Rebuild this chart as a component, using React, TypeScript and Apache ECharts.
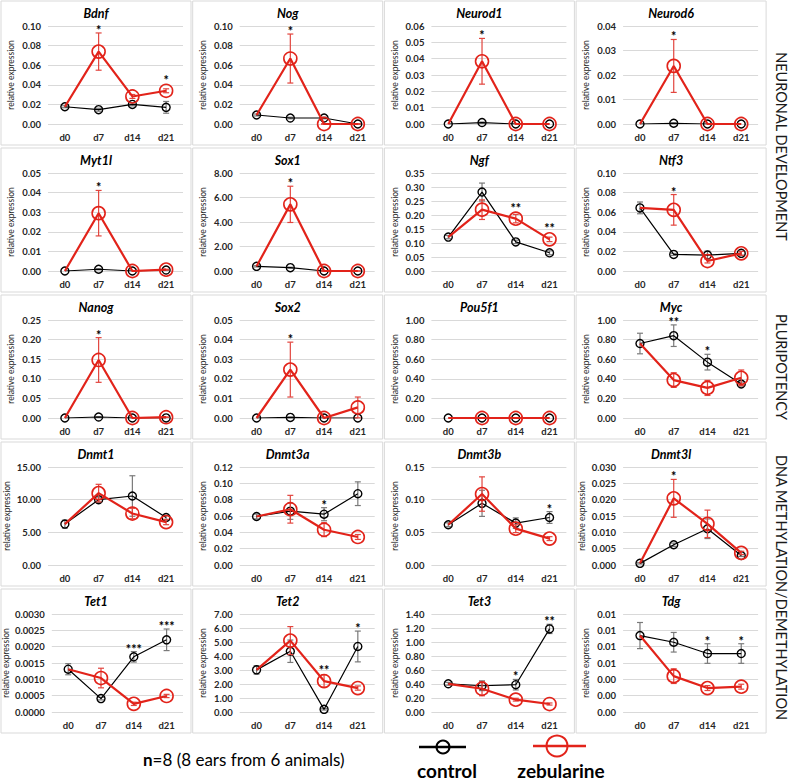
import React, { useEffect, useRef } from 'react';
import * as echarts from 'echarts';

const FONT = 'Lato, "Noto Sans", "DejaVu Sans", sans-serif';

const CATEGORIES = ['d0', 'd7', 'd14', 'd21'];

const GENES = [
  'Bdnf', 'Nog', 'Neurod1', 'Neurod6',
  'Myt1l', 'Sox1', 'Ngf', 'Ntf3',
  'Nanog', 'Sox2', 'Pou5f1', 'Myc',
  'Dnmt1', 'Dnmt3a', 'Dnmt3b', 'Dnmt3l',
  'Tet1', 'Tet2', 'Tet3', 'Tdg',
];

const Y_MAX = [
  0.10, 0.10, 0.06, 0.04,
  0.05, 8, 0.35, 0.10,
  0.25, 0.05, 1.0, 1.0,
  15, 0.12, 0.15, 0.030,
  0.0030, 7, 1.4, 0.012,
];
const Y_STEP = [
  0.02, 0.02, 0.01, 0.01,
  0.01, 2, 0.05, 0.02,
  0.05, 0.01, 0.2, 0.2,
  5, 0.02, 0.05, 0.005,
  0.0005, 1, 0.2, 0.002,
];
const Y_DECIMALS = [
  2, 2, 2, 2,
  2, 2, 2, 2,
  2, 2, 2, 2,
  2, 2, 2, 3,
  4, 2, 2, 2,
];

const CONTROL = [
  [0.0176, 0.0146, 0.0200, 0.0170],
  [0.0092, 0.0061, 0.0061, 0.0000],
  [0, 0.0009, 0, 0],
  [0, 0.0003, 0, 0],
  [0, 0.0009, 0, 0.0005],
  [0.38, 0.27, 0, 0],
  [0.121, 0.282, 0.104, 0.065],
  [0.0644, 0.0169, 0.0163, 0.018],
  [0, 0.0025, 0, 0.0003],
  [0, 0.0003, 0, 0],
  [0, 0, 0, 0],
  [0.76, 0.84, 0.57, 0.347],
  [6.26, 10.0, 10.56, 7.27],
  [0.0594, 0.0659, 0.0622, 0.0873],
  [0.0616, 0.0944, 0.0641, 0.0727],
  [0.0005, 0.0062, 0.0111, 0.0029],
  [0.00131, 0.00041, 0.00169, 0.00221],
  [3.01, 4.34, 0.19, 4.68],
  [0.403, 0.375, 0.39, 1.187],
  [0.00936, 0.00854, 0.00716, 0.00716],
];
const CONTROL_ERR = [
  [0.001, 0.0015, 0.0015, 0.006],
  [0.001, 0.0008, 0.0008, 0.0003],
  [0, 0.0003, 0, 0],
  [0, 0.0002, 0, 0],
  [0, 0.0003, 0, 0.0002],
  [0.05, 0.04, 0.01, 0],
  [0.006, 0.032, 0.006, 0.007],
  [0.006, 0.001, 0.004, 0.002],
  [0, 0.001, 0, 0],
  [0, 0.0002, 0, 0],
  [0, 0, 0, 0],
  [0.105, 0.11, 0.08, 0.02],
  [0.6, 0.4, 3.1, 0.3],
  [0.003, 0.01, 0.008, 0.0145],
  [0.003, 0.02, 0.008, 0.009],
  [0.0002, 0.0005, 0.003, 0.0003],
  [0.00017, 0.00004, 0.00016, 0.00033],
  [0.3, 0.8, 0.05, 1.1],
  [0.02, 0.07, 0.075, 0.066],
  [0.0016, 0.0012, 0.0012, 0.0012],
];
const ZEBULARINE = [
  [0.0176, 0.0739, 0.0281, 0.0339],
  [0.0092, 0.0668, 0, 0],
  [0, 0.0384, 0, 0],
  [0, 0.0237, 0, 0],
  [0, 0.0295, 0, 0.0007],
  [0.38, 5.44, 0, 0],
  [0.121, 0.219, 0.187, 0.113],
  [0.0644, 0.0624, 0.0102, 0.018],
  [0, 0.148, 0, 0.002],
  [0, 0.0247, 0, 0.0054],
  [0, 0, 0, 0],
  [0.76, 0.387, 0.307, 0.41],
  [6.26, 11.0, 7.88, 6.57],
  [0.0594, 0.0683, 0.0432, 0.0343],
  [0.0616, 0.1086, 0.0556, 0.0404],
  [0.0005, 0.0204, 0.0126, 0.0037],
  [0.00131, 0.00104, 0.00025, 0.00049],
  [3.01, 5.1, 2.21, 1.71],
  [0.403, 0.332, 0.176, 0.114],
  [0.00936, 0.00439, 0.00293, 0.0031],
];
const ZEBULARINE_ERR = [
  [0, 0.019, 0.002, 0.002],
  [0, 0.025, 0.0003, 0.0003],
  [0, 0.014, 0, 0],
  [0, 0.0108, 0, 0],
  [0, 0.0116, 0, 0.0002],
  [0, 1.48, 0.01, 0.01],
  [0, 0.035, 0.015, 0.008],
  [0, 0.0156, 0.002, 0.002],
  [0, 0.057, 0, 0.0005],
  [0, 0.014, 0, 0.0053],
  [0, 0, 0, 0],
  [0, 0.075, 0.077, 0.08],
  [0, 1.35, 0.8, 0.4],
  [0, 0.017, 0.0085, 0.003],
  [0, 0.0263, 0.006, 0.003],
  [0, 0.0058, 0.0042, 0.0005],
  [0, 0.0003, 0.00005, 0.00005],
  [0, 1.0, 0.44, 0.15],
  [0, 0.1, 0.02, 0.015],
  [0, 0.0009, 0.0003, 0.0003],
];
const STARS = [
  ['', '*', '', '*'],
  ['', '*', '', ''],
  ['', '*', '', ''],
  ['', '*', '', ''],
  ['', '*', '', ''],
  ['', '*', '', ''],
  ['', '', '**', '**'],
  ['', '*', '', ''],
  ['', '*', '', ''],
  ['', '*', '', ''],
  ['', '', '', ''],
  ['', '**', '*', ''],
  ['', '', '', ''],
  ['', '', '*', ''],
  ['', '', '', '*'],
  ['', '*', '', ''],
  ['', '', '***', '***'],
  ['', '', '**', '*'],
  ['', '', '*', '**'],
  ['', '', '*', '*'],
];

const GROUP_LABELS = ['NEURONAL DEVELOPMENT', 'PLURIPOTENCY', 'DNA METHYLATION/DEMETHYLATION'];
const GROUP_ROWS = [[0, 1], [2, 2], [3, 4]];

const SERIES_NAMES = ['control', 'zebularine'];
const NOTE_BOLD = 'n';
const NOTE_REST = '=8 (8 ears from 6 animals)';

const BLACK = '#000000';
const RED = '#e2231a';
const RED_ERR = '#e2453e';
const GREY_ERR = '#7a7a7a';
const GRID_COLOR = '#d9d9d9';

const PANEL_W = 190;
const PANEL_H = 144;
const COL_PITCH = 191.7;
const ROW_PITCH = 147;
const PLOT_LEFT = 47;
const PLOT_TOP = 25;
const PLOT_W = 135;
const PLOT_H = 98;
const RED_SYMBOL = 13;

function origin(i: number): [number, number] {
  const c = i % 4;
  const r = Math.floor(i / 4);
  return [1 + c * COL_PITCH, 1 + r * ROW_PITCH];
}

function errorBarSeries(i: number, values: number[], errs: number[], color: string, z: number) {
  return {
    type: 'custom',
    xAxisIndex: i,
    yAxisIndex: i,
    z,
    silent: true,
    encode: { x: 0, y: 1 },
    data: values.map((v, k) => [k, v, errs[k]]),
    renderItem: (params: any, api: any) => {
      const k = api.value(0);
      const v = api.value(1);
      const e = api.value(2);
      if (!e) return { type: 'group', children: [] };
      const top = api.coord([k, v + e]);
      const bot = api.coord([k, v - e]);
      const hw = 3;
      const style = { stroke: color, lineWidth: 1.2 };
      return {
        type: 'group',
        children: [
          { type: 'line', shape: { x1: top[0], y1: top[1], x2: bot[0], y2: bot[1] }, style },
          { type: 'line', shape: { x1: top[0] - hw, y1: top[1], x2: top[0] + hw, y2: top[1] }, style },
          { type: 'line', shape: { x1: bot[0] - hw, y1: bot[1], x2: bot[0] + hw, y2: bot[1] }, style },
        ],
      };
    },
  };
}

function starSeries(i: number) {
  const data: number[][] = [];
  STARS[i].forEach((s, k) => {
    if (s) {
      const top = Math.max(CONTROL[i][k] + CONTROL_ERR[i][k], ZEBULARINE[i][k] + ZEBULARINE_ERR[i][k]);
      data.push([k, top, ZEBULARINE[i][k]]);
    }
  });
  return {
    type: 'custom',
    xAxisIndex: i,
    yAxisIndex: i,
    z: 6,
    silent: true,
    encode: { x: 0, y: 1 },
    data,
    renderItem: (params: any, api: any) => {
      const k = api.value(0);
      const top = api.value(1);
      const zv = api.value(2);
      const p = api.coord([k, top]);
      const pz = api.coord([k, zv]);
      const y = Math.min(p[1] + 1.5, pz[1] - RED_SYMBOL / 2);
      return {
        type: 'text',
        x: p[0],
        y: y,
        style: {
          text: STARS[i][k],
          fontSize: 12.5,
          lineHeight: 8,
          fontWeight: 'bold',
          fontFamily: FONT,
          fill: '#000',
          align: 'center',
          verticalAlign: 'bottom',
        },
      };
    },
  };
}

function buildOption() {
  const grids: any[] = [];
  const xAxes: any[] = [];
  const yAxes: any[] = [];
  const series: any[] = [];
  const graphics: any[] = [];

  GENES.forEach((gene, i) => {
    const [px, py] = origin(i);
    grids.push({ left: px + PLOT_LEFT, top: py + PLOT_TOP, width: PLOT_W, height: PLOT_H, containLabel: false });
    xAxes.push({
      gridIndex: i,
      type: 'category',
      data: CATEGORIES,
      boundaryGap: true,
      axisLine: { show: false },
      axisTick: { show: false },
      axisLabel: { fontFamily: FONT, fontSize: 9.5, fontWeight: 'bold', color: '#262626', margin: 8 },
    });
    const dec = Y_DECIMALS[i];
    const maxLabelLen = Y_MAX[i].toFixed(dec).length;
    yAxes.push({
      gridIndex: i,
      type: 'value',
      min: 0,
      max: Y_MAX[i],
      interval: Y_STEP[i],
      axisLine: { show: false },
      axisTick: { show: false },
      splitLine: { show: true, lineStyle: { color: GRID_COLOR, width: 1 } },
      axisLabel: {
        fontFamily: FONT,
        fontSize: 9.5,
        fontWeight: 'bold',
        color: '#262626',
        margin: 7,
        formatter: (v: number) => v.toFixed(dec),
      },
      name: 'relative expression',
      nameLocation: 'middle',
      nameRotate: 90,
      nameGap: maxLabelLen * 4.8 + 13,
      nameTextStyle: { fontFamily: FONT, fontSize: 8.5, color: '#262626' },
    });

    series.push(errorBarSeries(i, CONTROL[i], CONTROL_ERR[i], GREY_ERR, 2));
    series.push({
      type: 'line',
      name: SERIES_NAMES[0],
      xAxisIndex: i,
      yAxisIndex: i,
      z: 3,
      silent: true,
      data: CONTROL[i],
      symbol: 'circle',
      symbolSize: 8,
      itemStyle: { color: 'rgba(0,0,0,0)', borderColor: BLACK, borderWidth: 1.4 },
      lineStyle: { color: BLACK, width: 1.2 },
    });
    series.push(errorBarSeries(i, ZEBULARINE[i], ZEBULARINE_ERR[i], RED_ERR, 4));
    series.push({
      type: 'line',
      name: SERIES_NAMES[1],
      xAxisIndex: i,
      yAxisIndex: i,
      z: 5,
      silent: true,
      data: ZEBULARINE[i].map((v, k) => (k === 0 ? { value: v, symbol: 'none' } : v)),
      symbol: 'circle',
      symbolSize: RED_SYMBOL,
      itemStyle: { color: 'rgba(0,0,0,0)', borderColor: RED, borderWidth: 1.6 },
      lineStyle: { color: RED, width: 2.2 },
    });
    series.push(starSeries(i));

    graphics.push({
      type: 'rect',
      z: -10,
      silent: true,
      shape: { x: px, y: py, width: PANEL_W, height: PANEL_H },
      style: { fill: '#ffffff', stroke: GRID_COLOR, lineWidth: 1 },
    });
    graphics.push({
      type: 'text',
      z: 10,
      silent: true,
      x: px + PANEL_W / 2,
      y: py + 12.5,
      style: {
        text: gene,
        fontFamily: FONT,
        fontSize: 12.5,
        lineHeight: 13,
        fontWeight: 'bold',
        fontStyle: 'italic',
        fill: '#000',
        align: 'center',
        verticalAlign: 'middle',
      },
    });
  });

  GROUP_LABELS.forEach((label, g) => {
    const [r0, r1] = GROUP_ROWS[g];
    const top = 1 + r0 * ROW_PITCH;
    const bottom = 1 + r1 * ROW_PITCH + PANEL_H;
    graphics.push({
      type: 'text',
      z: 10,
      silent: true,
      x: 781,
      y: (top + bottom) / 2,
      rotation: -Math.PI / 2,
      style: {
        text: label,
        fontFamily: FONT,
        fontSize: 14.5,
        fill: '#1a1a1a',
        align: 'center',
        verticalAlign: 'middle',
      },
    });
  });

  // legend / note
  graphics.push({
    type: 'text',
    z: 10,
    silent: true,
    x: 143,
    y: 759,
    style: {
      text: '{b|' + NOTE_BOLD + '}{r|' + NOTE_REST + '}',
      rich: {
        b: { fontFamily: FONT, fontSize: 17, fontWeight: 'bold', fill: '#000' },
        r: { fontFamily: FONT, fontSize: 17, fill: '#000' },
      },
      align: 'left',
      verticalAlign: 'middle',
    },
  });
  graphics.push({ type: 'line', z: 10, silent: true, shape: { x1: 419, y1: 747, x2: 466, y2: 747 }, style: { stroke: BLACK, lineWidth: 2.5 } });
  graphics.push({ type: 'circle', z: 11, silent: true, shape: { cx: 443, cy: 747, r: 6.5 }, style: { fill: 'none', stroke: BLACK, lineWidth: 2 } });
  graphics.push({ type: 'line', z: 10, silent: true, shape: { x1: 533, y1: 746, x2: 586, y2: 746 }, style: { stroke: RED, lineWidth: 2.5 } });
  graphics.push({ type: 'circle', z: 11, silent: true, shape: { cx: 557, cy: 746, r: 10.5 }, style: { fill: 'none', stroke: RED, lineWidth: 2 } });
  graphics.push({
    type: 'text', z: 10, silent: true, x: 447, y: 770,
    style: { text: SERIES_NAMES[0], fontFamily: FONT, fontSize: 19, fontWeight: 'bold', fill: '#000', align: 'center', verticalAlign: 'middle' },
  });
  graphics.push({
    type: 'text', z: 10, silent: true, x: 561, y: 770,
    style: { text: SERIES_NAMES[1], fontFamily: FONT, fontSize: 19, fontWeight: 'bold', fill: '#000', align: 'center', verticalAlign: 'middle' },
  });

  return {
    animation: false,
    backgroundColor: '#ffffff',
    grid: grids,
    xAxis: xAxes,
    yAxis: yAxes,
    series,
    graphic: { elements: graphics },
  };
}

export default function App() {
  const ref = useRef<HTMLDivElement>(null);
  useEffect(() => {
    if (!ref.current) return;
    const chart = echarts.init(ref.current, undefined, { renderer: 'svg' });
    chart.setOption(buildOption() as any);
    return () => {
      chart.dispose();
    };
  }, []);
  return (
    <div
      ref={ref}
      style={{ position: 'absolute', left: 0, top: 0, width: 790, height: 781, background: '#ffffff' }}
    />
  );
}
